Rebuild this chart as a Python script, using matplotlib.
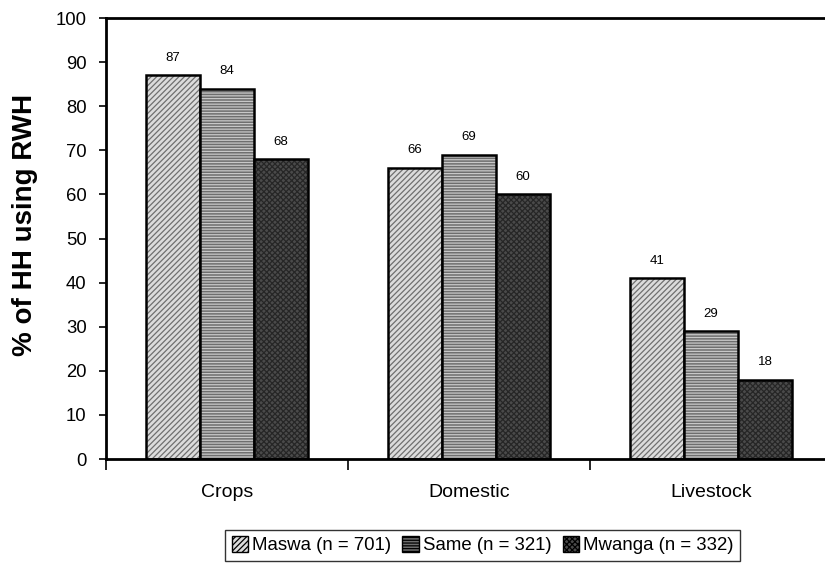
import numpy as np
import matplotlib.pyplot as plt
from matplotlib.patches import Patch

plt.rcParams['font.family'] = ['Liberation Sans', 'DejaVu Sans']
plt.rcParams['hatch.linewidth'] = 0.9

categories = ['Crops', 'Domestic', 'Livestock']
series = ['Maswa (n = 701)', 'Same (n = 321)', 'Mwanga (n = 332)']
maswa = [87, 66, 41]
same = [84, 69, 29]
mwanga = [68, 60, 18]

values = [maswa, same, mwanga]
faces = ['#dcdcdc', '#6e6e6e', '#4a4a4a']
hatch_cols = ['#707070', '#c8c8c8', '#262626']
hatches = ['//////', '------', 'xxxxxx']

fig = plt.figure(figsize=(8.25, 5.65), dpi=100)
ax = fig.add_axes([0.1285, 0.1876, 0.88, 0.7805])

x = np.arange(len(categories))
w = 0.223
for i, vals in enumerate(values):
    pos = x + (i - 1) * w
    ax.bar(pos, vals, w, color=faces[i], edgecolor=hatch_cols[i],
           hatch=hatches[i], linewidth=0)
    ax.bar(pos, vals, w, fill=False, edgecolor='black', linewidth=1.8)
    for p, v in zip(pos, vals):
        ax.text(p, v + 2.6, str(v), ha='center', va='bottom', fontsize=9.5)

ax.set_xlim(-0.5, 2.5)
ax.set_ylim(0, 100)
ax.set_yticks(np.arange(0, 101, 10))
ax.tick_params(axis='y', labelsize=13.3, direction='out', length=5, width=1.2, pad=9)
ax.set_xticks([-0.5, 0.5, 1.5, 2.5])
ax.set_xticklabels([])
ax.tick_params(axis='x', direction='out', length=8, width=1.2)
ax.set_xticks(x, minor=True)
ax.set_xticklabels(categories, minor=True, fontsize=14)
ax.tick_params(axis='x', which='minor', length=0, pad=18)
for s in ax.spines.values():
    s.set_linewidth(2)

ax.set_ylabel('% of HH using RWH', fontsize=20, fontweight='bold')
ax.yaxis.set_label_coords(-0.093, 0.53)

handles = [Patch(facecolor=faces[i], hatch=hatches[i], edgecolor='black', linewidth=1)
           for i in range(3)]
leg = fig.legend(handles, series, loc='center', bbox_to_anchor=(0.585, 0.035), ncol=3,
                 fontsize=13.4, frameon=True, fancybox=False, edgecolor='black',
                 handlelength=0.9, handleheight=0.9, handletextpad=0.2,
                 columnspacing=0.6, borderpad=0.35)
leg.get_frame().set_linewidth(1)

fig.savefig('out.png', dpi=100)
